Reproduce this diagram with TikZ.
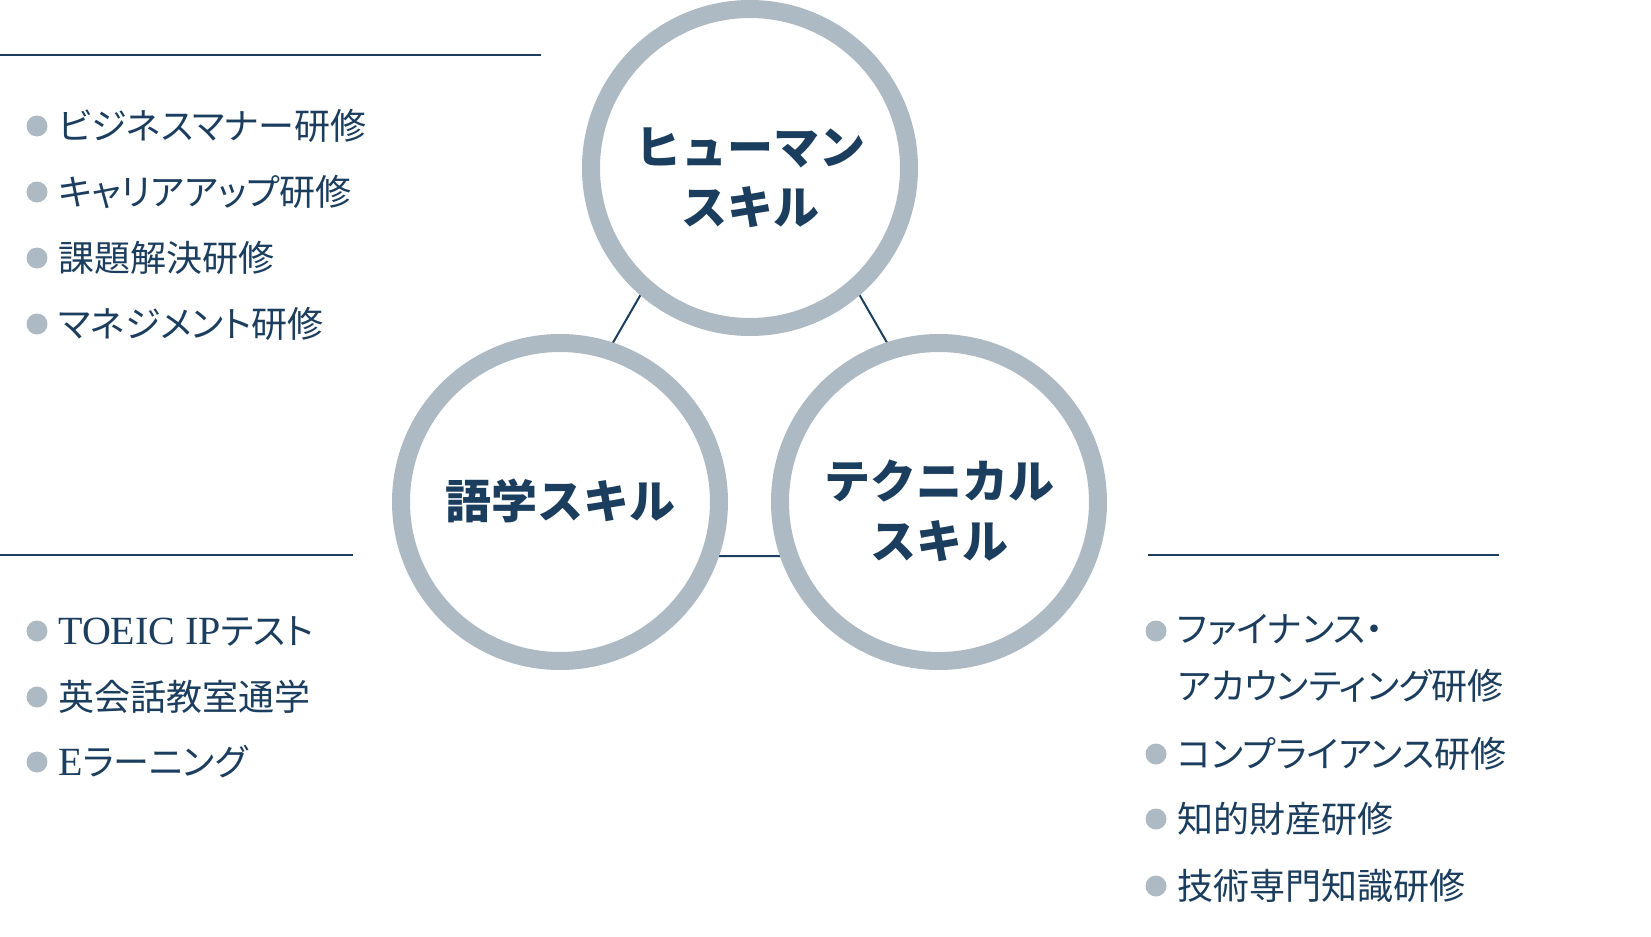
\documentclass[tikz,border=0pt]{standalone}
\usepackage{fontspec}
\setmainfont{Noto Sans CJK JP}
\newfontfamily\jplist[RawFeature=+palt]{Noto Sans CJK JP}
\newfontfamily\latinserif{Liberation Serif}
\newcommand{\lat}[1]{{\fontsize{20}{28.5}\selectfont\latinserif #1}}
\definecolor{ring}{HTML}{ADBAC4}
\definecolor{navy}{HTML}{1B3D5E}
\tikzset{
  skill/.style={circle, draw=ring, fill=white, line width=9pt, minimum size=159pt, inner sep=0pt},
  title/.style={inner sep=0pt, text=navy, font=\fontsize{23}{30}\selectfont\bfseries, align=center},
  rule/.style={draw=navy, line width=1pt},
  link/.style={draw=navy, line width=1pt},
  dot/.style={circle, fill=ring, minimum size=10.5pt, inner sep=0pt},
  item/.style={anchor=west, inner sep=0pt, text=navy, font=\fontsize{18}{28.5}\selectfont\jplist, align=left},
}
\begin{document}
\begin{tikzpicture}[x=0.5pt, y=-0.5pt]
\useasboundingbox (0,0) rectangle (1651,937);
% connector triangle
\coordinate (TA) at (750,105);
\coordinate (TL) at (490,556);
\coordinate (TR) at (1010,556);
\draw[link] (TA) -- (TL) -- (TR) -- cycle;
% circles
\node[skill] (human) at (750,168) {};
\node[skill] (lang) at (560,502) {};
\node[skill] (tech) at (939,502) {};
\node[title] (humanT) at (750,178) {ヒューマン\\スキル};
\node[title] (langT) at (560,501) {語学スキル};
\node[title] (techT) at (939,511) {テクニカル\\スキル};
% rules
\coordinate (r1a) at (0,55);   \coordinate (r1b) at (541,55);
\coordinate (r2a) at (0,555);  \coordinate (r2b) at (353,555);
\coordinate (r3a) at (1148,555); \coordinate (r3b) at (1499,555);
\draw[rule] (r1a) -- (r1b);
\draw[rule] (r2a) -- (r2b);
\draw[rule] (r3a) -- (r3b);
% top-left list
\node[dot] (d1) at (37,126) {};
\node[item] (i1) at (58,126) {ビジネスマナー研修};
\node[dot] (d2) at (37,192) {};
\node[item] (i2) at (58,192) {キャリアアップ研修};
\node[dot] (d3) at (37,258) {};
\node[item] (i3) at (58,258) {課題解決研修};
\node[dot] (d4) at (37,324) {};
\node[item] (i4) at (58,324) {マネジメント研修};
% bottom-left list
\node[dot] (d5) at (37,631) {};
\node[item] (i5) at (58,631) {\lat{TOEIC IP}テスト};
\node[dot] (d6) at (37,697) {};
\node[item] (i6) at (58,697) {英会話教室通学};
\node[dot] (d7) at (37,762) {};
\node[item] (i7) at (58,762) {\lat{E}ラーニング};
% right list
\node[dot] (d8) at (1156,631) {};
\node[item, anchor=north west] (i8) at (1177,614) {ファイナンス・\\アカウンティング研修};
\node[dot] (d9) at (1156,754) {};
\node[item] (i9) at (1177,754) {コンプライアンス研修};
\node[dot] (d10) at (1156,819) {};
\node[item] (i10) at (1177,819) {知的財産研修};
\node[dot] (d11) at (1156,886) {};
\node[item] (i11) at (1177,886) {技術専門知識研修};
\end{tikzpicture}
\end{document}
